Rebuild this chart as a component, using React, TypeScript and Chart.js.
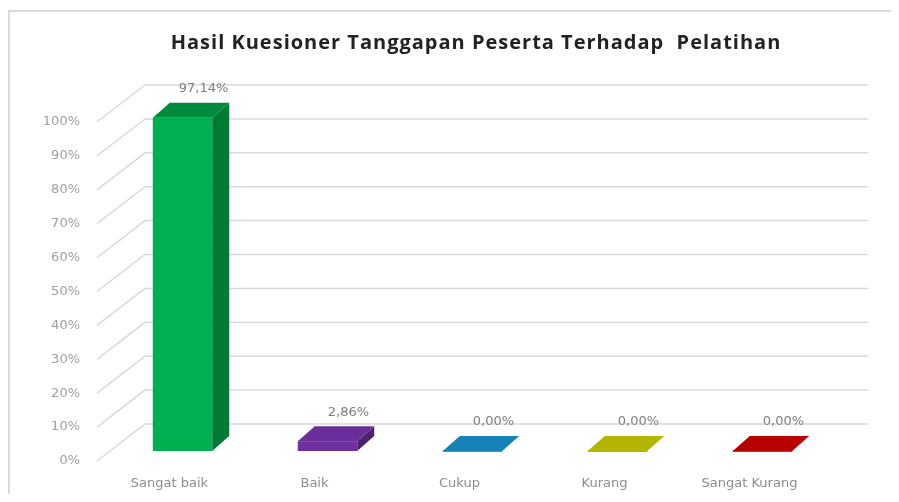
import React, { useEffect, useRef } from "react";
import { Chart, registerables } from "chart.js";

Chart.register(...registerables);

const categories = ["Sangat baik", "Baik", "Cukup", "Kurang", "Sangat Kurang"];
const values = [97.14, 2.86, 0, 0, 0];
const valueLabels = ["97,14%", "2,86%", "0,00%", "0,00%", "0,00%"];
const yMax = 100;
const yStep = 10;
const title = "Hasil Kuesioner Tanggapan Peserta Terhadap  Pelatihan";

const frontColors = ["#00b050", "#7030a0", "#1b8fc9", "#c2c400", "#c80000"];
const sideColors = ["#007a35", "#4e2171", "#13709e", "#8f9100", "#8f0000"];
const topColors = ["#008a3c", "#6a2d99", "#1682b8", "#b3b500", "#b80000"];

// geometry of the oblique 3D look (canvas px)
const CW = 883;
const CH = 486;
const WDX = 48; // wall depth
const WDY = -37;
const WALL_RIGHT = 860;
const OX = 13; // bar front offset from front plane
const OY = -10;
const BDX = 17; // bar depth
const BDY = -15;
const BAR_STRETCH = 1.012;

const threeD = {
  id: "threeD",
  beforeDraw(chart: any) {
    const { ctx, width } = chart;
    ctx.save();
    ctx.strokeStyle = "#dadada";
    ctx.lineWidth = 2;
    ctx.beginPath();
    ctx.moveTo(1, chart.height);
    ctx.lineTo(1, 3);
    ctx.lineTo(width, 3);
    ctx.stroke();
    ctx.fillStyle = "#222222";
    ctx.font = "bold 20px 'Open Sans'";
    (ctx as any).letterSpacing = "1px";
    ctx.textAlign = "center";
    ctx.textBaseline = "middle";
    ctx.fillText(title, 468, 35);
    (ctx as any).letterSpacing = "0px";
    ctx.restore();
  },
  beforeDatasetsDraw(chart: any) {
    const { ctx, chartArea } = chart;
    const y = chart.scales.y;
    ctx.save();
    ctx.strokeStyle = "#d9d9d9";
    ctx.lineWidth = 1.5;
    for (const t of y.ticks) {
      const py = y.getPixelForValue(t.value);
      ctx.beginPath();
      ctx.moveTo(chartArea.left, py);
      ctx.lineTo(chartArea.left + WDX, py + WDY);
      ctx.lineTo(WALL_RIGHT, py + WDY);
      ctx.stroke();
    }
    const meta = chart.getDatasetMeta(0);
    meta.data.forEach((el: any, i: number) => {
      const p = el.getProps(["x", "y", "base", "width"], true);
      const x0 = p.x - p.width / 2 + OX;
      const x1 = x0 + p.width;
      const by = p.base + OY;
      const ty = by - (p.base - p.y) * BAR_STRETCH;
      // side
      ctx.fillStyle = sideColors[i];
      ctx.beginPath();
      ctx.moveTo(x1, ty);
      ctx.lineTo(x1 + BDX, ty + BDY);
      ctx.lineTo(x1 + BDX, by + BDY);
      ctx.lineTo(x1, by);
      ctx.closePath();
      ctx.fill();
      // front
      ctx.fillStyle = frontColors[i];
      ctx.fillRect(x0, ty, p.width, by - ty);
      if (by - ty < 1) {
        ctx.strokeStyle = sideColors[i];
        ctx.lineWidth = 1.5;
        ctx.beginPath();
        ctx.moveTo(x0, by);
        ctx.lineTo(x1, by);
        ctx.stroke();
      }
      // top
      ctx.fillStyle = topColors[i];
      ctx.beginPath();
      ctx.moveTo(x0, ty);
      ctx.lineTo(x0 + BDX, ty + BDY);
      ctx.lineTo(x1 + BDX, ty + BDY);
      ctx.lineTo(x1, ty);
      ctx.closePath();
      ctx.fill();
    });
    ctx.restore();
    return false;
  },
  afterDraw(chart: any) {
    const { ctx } = chart;
    const meta = chart.getDatasetMeta(0);
    ctx.save();
    ctx.fillStyle = "#7f7f7f";
    ctx.font = "13px 'DejaVu Sans'";
    ctx.textAlign = "center";
    ctx.textBaseline = "middle";
    meta.data.forEach((el: any, i: number) => {
      const p = el.getProps(["x", "y", "base"], true);
      const by = p.base + OY;
      const ty = by - (p.base - p.y) * BAR_STRETCH;
      ctx.fillText(valueLabels[i], p.x + OX + 21, ty - 29);
    });
    ctx.restore();
  },
};

export default function App() {
  const ref = useRef<HTMLCanvasElement>(null);
  useEffect(() => {
    if (!ref.current) return;
    const chart = new Chart(ref.current, {
      type: "bar",
      data: {
        labels: categories,
        datasets: [
          {
            data: values,
            backgroundColor: frontColors,
            categoryPercentage: 0.41,
            barPercentage: 1,
          },
        ],
      },
      options: {
        animation: false,
        responsive: false,
        layout: { padding: { top: 114, right: CW - 814, bottom: 0, left: 0 } },
        plugins: {
          legend: { display: false },
          title: { display: false },
          tooltip: { enabled: false },
        },
        scales: {
          y: {
            min: 0,
            max: yMax,
            afterFit: (s: any) => {
              s.width = 89;
            },
            grid: { display: false, drawTicks: false },
            border: { display: false },
            ticks: {
              stepSize: yStep,
              padding: 17,
              color: "#a0a0a0",
              font: { family: "'DejaVu Sans'", size: 13 },
              callback: (v: any) => v + "%",
            },
          },
          x: {
            afterFit: (s: any) => {
              s.height = CH - 453;
            },
            grid: { display: false, drawTicks: false },
            border: { display: false },
            ticks: {
              padding: 15,
              color: "#8c8c8c",
              font: { family: "'DejaVu Sans'", size: 13 },
              maxRotation: 0,
            },
          },
        },
      },
      plugins: [threeD],
    });
    return () => chart.destroy();
  }, []);
  return (
    <div style={{ width: CW, height: CH }}>
      <canvas ref={ref} width={CW} height={CH} style={{ display: "block" }} />
    </div>
  );
}
